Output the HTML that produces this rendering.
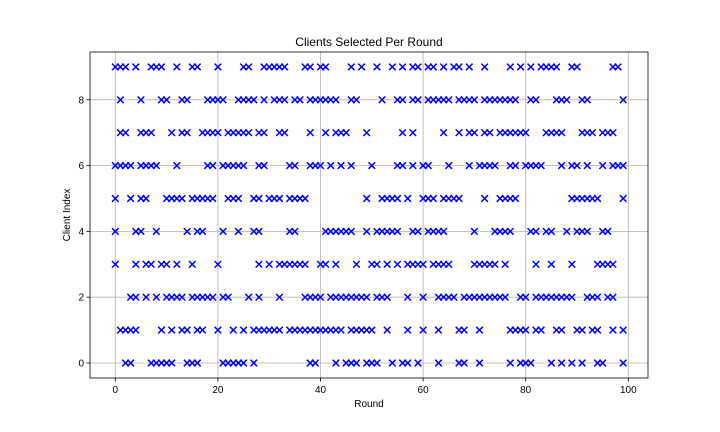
<!DOCTYPE html>
<html><head><meta charset="utf-8"><style>
html,body{margin:0;padding:0;background:#fff;}
svg{display:block;font-family:"Liberation Sans","DejaVu Sans",sans-serif;}
</style></head><body>
<svg id="chart" width="720" height="432">
<rect width="720" height="432" fill="#fff"/>
<g id="grid"></g>
<g id="axes"></g>
<g id="marks"></g>
<text x="369" y="46" text-anchor="middle" font-size="12">Clients Selected Per Round</text>
<text x="369" y="407" text-anchor="middle" font-size="10">Round</text>
<text transform="translate(70,215) rotate(-90)" text-anchor="middle" font-size="10">Client Index</text>
</svg>
<script>
const xTicks = [0,20,40,60,80,100];
const yTicks = [0,2,4,6,8];
const clientIds = [0,1,2,3,4,5,6,7,8,9];
const rounds9 = [0,1,2,4,7,8,9,12,15,16,20,25,26,29,30,31,32,33,37,38,40,41,46,48,51,54,56,58,59,61,62,64,66,67,69,72,77,79,81,83,84,85,86,89,90,97,98];
const rounds8 = [1,5,9,10,13,14,18,19,20,21,24,25,26,27,29,31,32,33,35,36,38,39,40,41,42,43,46,47,52,55,56,58,59,61,62,63,64,65,67,68,69,70,72,73,74,75,76,77,78,81,82,86,87,88,91,92,99];
const rounds7 = [1,2,5,6,7,11,13,14,17,18,19,20,22,23,24,25,26,28,29,32,33,38,41,43,44,45,49,56,58,64,67,69,70,72,73,75,76,77,78,79,80,84,85,86,87,91,92,93,95,96,97];
const rounds6 = [0,1,2,3,5,6,7,8,12,18,19,21,22,23,24,25,28,29,34,35,38,39,40,42,44,46,50,55,56,58,60,61,65,69,71,72,73,74,77,78,80,81,82,83,87,89,90,92,95,97,98,99];
const rounds5 = [0,3,5,6,10,11,12,13,15,16,17,18,19,22,23,24,27,28,30,31,32,34,35,36,37,49,52,53,54,55,57,60,61,62,64,65,66,67,72,75,76,77,78,89,90,91,92,93,94,99];
const rounds4 = [0,4,5,8,14,16,17,21,24,27,28,34,35,41,42,43,44,45,46,49,51,52,53,54,55,58,59,61,62,63,64,70,74,75,76,77,81,82,84,85,88,90,91,92,95,96];
const rounds3 = [0,4,6,7,9,10,12,15,20,28,30,32,33,34,35,36,37,40,41,43,47,50,51,53,55,57,58,59,60,62,63,64,65,70,71,72,73,74,76,82,85,89,94,95,96,97];
const rounds2 = [3,4,6,8,10,11,12,13,15,16,17,18,19,21,22,26,28,32,37,38,39,40,42,43,44,45,46,47,48,49,51,52,53,57,60,63,64,65,66,68,69,70,71,72,73,74,75,76,79,80,82,83,84,85,86,87,88,89,92,93,94,96,97];
const rounds1 = [1,2,3,4,9,11,13,14,16,17,20,23,25,27,28,29,30,31,32,34,35,36,37,38,39,40,41,42,43,44,46,47,48,49,50,53,57,60,63,67,68,71,77,78,79,80,82,83,86,87,90,91,93,94,97,99];
const rounds0 = [2,3,7,8,9,10,11,14,15,16,21,22,23,24,25,27,38,39,43,45,46,47,49,50,51,54,56,57,59,63,67,68,71,77,79,80,81,85,87,89,91,94,95,99];
const roundsByClient = [rounds0,rounds1,rounds2,rounds3,rounds4,rounds5,rounds6,rounds7,rounds8,rounds9];

const L=90,R=648,T=52,B=378;
function xs(v){return 115.3+v*5.13;}
function ys(v){return 363-v*32.9;}
const NS="http://www.w3.org/2000/svg";
function mk(tag,attrs,parent){const e=document.createElementNS(NS,tag);for(const k in attrs)e.setAttribute(k,attrs[k]);parent.appendChild(e);return e;}
const grid=document.getElementById('grid'),axes=document.getElementById('axes'),marks=document.getElementById('marks');
xTicks.forEach(t=>{
  const x=xs(t);
  const g=mk('line',{x1:x,x2:x,y1:T,y2:B,stroke:'#b0b0b0','stroke-width':0.8},grid);
  
  
  mk('line',{x1:x,x2:x,y1:B,y2:B+3.5,stroke:'#000','stroke-width':0.8},axes);
  const tx=mk('text',{x:x,y:B+15,'text-anchor':'middle','font-size':10},axes);
  tx.textContent=t;
  
  
});
yTicks.forEach(t=>{
  const y=ys(t);
  const g=mk('line',{x1:L,x2:R,y1:y,y2:y,stroke:'#b0b0b0','stroke-width':0.8},grid);
  
  
  mk('line',{x1:L-3.5,x2:L,y1:y,y2:y,stroke:'#000','stroke-width':0.8},axes);
  const tx=mk('text',{x:L-6,y:y+3.5,'text-anchor':'end','font-size':10},axes);
  tx.textContent=t;
  
  
});
const frame=mk('rect',{x:L,y:T,width:R-L,height:B-T,fill:'none',stroke:'#000','stroke-width':0.8},axes);


clientIds.forEach(c=>{
  roundsByClient[c].forEach(r=>{
    const x=xs(r),y=ys(c),s=3.3;
    const p=mk('path',{d:`M${x-s},${y-s}L${x+s},${y+s}M${x-s},${y+s}L${x+s},${y-s}`,stroke:'#0000ff','stroke-width':1.5,fill:'none'},marks);
    
    
  });
});
</script>
</body></html>
